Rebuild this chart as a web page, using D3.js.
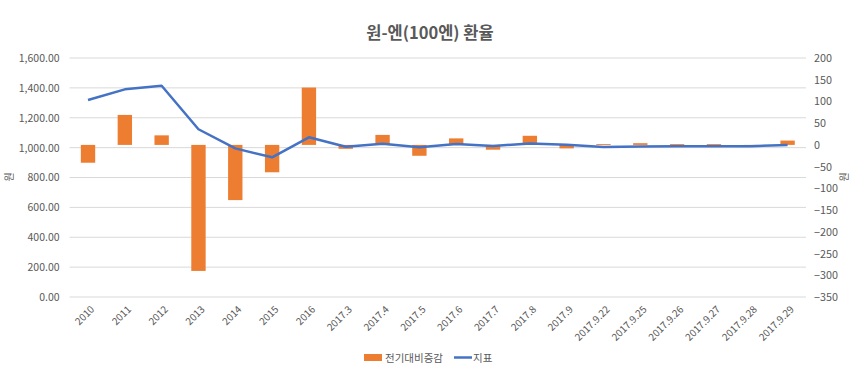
<!DOCTYPE html>
<html><head><meta charset="utf-8">
<script src="https://cdn.jsdelivr.net/npm/d3@7"></script>
<style>body{margin:0;background:#fff;} text{font-family:"Noto Sans CJK KR","Noto Sans",sans-serif;}</style>
</head><body>
<svg id="c" width="860" height="390"></svg>
<script>
const categories = ["2010","2011","2012","2013","2014","2015","2016","2017.3","2017.4","2017.5","2017.6","2017.7","2017.8","2017.9","2017.9.22","2017.9.25","2017.9.26","2017.9.27","2017.9.28","2017.9.29"];
const changeValues = [-41, 69, 22, -290, -127, -63, 132, -9, 23, -25, 15, -11, 21, -8, 2, 4, 2, 2, -0.5, 10];
const rateValues = [1319, 1390, 1414, 1123, 995, 935, 1069, 1006, 1026, 1002, 1024, 1011, 1028, 1020, 1005, 1008, 1009, 1009, 1009, 1018];
const leftTicks = [0,200,400,600,800,1000,1200,1400,1600];
const rightTicks = [200,150,100,50,0,-50,-100,-150,-200,-250,-300,-350];
const title = "원-엔(100엔) 환율";
const seriesNames = ["전기대비증감","지표"];

const svg = d3.select("#c");
const L = 69.6, R = 806, T = 58, B = 297;
const x = d3.scaleBand().domain(categories).range([L, R]).paddingInner(0.61).paddingOuter(0.305);
const yL = d3.scaleLinear().domain([0,1600]).range([B, T]);
const yR = d3.scaleLinear().domain([-350,200]).range([B, T]);
const grey = "#595959";

svg.append("text").attr("x", 430).attr("y", 39).attr("text-anchor","middle")
  .attr("font-size", 16.5).attr("font-weight","bold").attr("fill", grey).text(title);

// gridlines
svg.append("g").selectAll("line").data(leftTicks).join("line")
  .attr("x1", L).attr("x2", R).attr("y1", d=>yL(d)).attr("y2", d=>yL(d))
  .attr("stroke","#d9d9d9").attr("stroke-width",1);

// left axis
const la = svg.append("g").attr("transform",`translate(${L},0)`)
  .call(d3.axisLeft(yL).tickValues(leftTicks).tickSize(0).tickPadding(10).tickFormat(d3.format(",.2f")));
la.select(".domain").remove();
la.selectAll("text").attr("font-size",10.5).attr("fill",grey).attr("font-family","'Noto Sans CJK KR',sans-serif");

// right axis
const ra = svg.append("g").attr("transform",`translate(${R},0)`)
  .call(d3.axisRight(yR).tickValues(rightTicks).tickSize(0).tickPadding(8));
ra.select(".domain").remove();
ra.selectAll("text").attr("font-size",10.8).attr("fill",grey).attr("font-family","'Noto Sans CJK KR',sans-serif");

// axis titles
svg.append("text").attr("transform","translate(13,177) rotate(-90)").attr("text-anchor","middle")
  .attr("font-size",10).attr("fill",grey).text("원");
svg.append("text").attr("transform","translate(848,177) rotate(-90)").attr("text-anchor","middle")
  .attr("font-size",10).attr("fill",grey).text("원");

// bars
svg.append("g").selectAll("rect").data(changeValues).join("rect")
  .attr("x",(d,i)=>x(categories[i])).attr("width",x.bandwidth())
  .attr("y",d=>yR(Math.max(0,d))).attr("height",d=>Math.abs(yR(d)-yR(0)))
  .attr("fill","#ED7D31");

// line
const line = d3.line().x((d,i)=>x(categories[i])+x.bandwidth()/2).y(d=>yL(d));
svg.append("path").datum(rateValues).attr("d",line).attr("fill","none")
  .attr("stroke","#4472C4").attr("stroke-width",2.5).attr("stroke-linejoin","round");

// x labels
svg.append("g").selectAll("text").data(categories).join("text")
  .attr("transform",d=>`translate(${x(d)+x.bandwidth()/2+7},${B+13}) rotate(-45)`)
  .attr("text-anchor","end").attr("font-size",10).attr("fill",grey).text(d=>d);

// legend
const lg = svg.append("g");
lg.append("rect").attr("x",364).attr("y",354).attr("width",18).attr("height",7).attr("fill","#ED7D31");
lg.append("text").attr("x",385).attr("y",362).attr("font-size",10.5).attr("fill",grey).text(seriesNames[0]);
lg.append("line").attr("x1",454).attr("x2",472).attr("y1",357.5).attr("y2",357.5).attr("stroke","#4472C4").attr("stroke-width",2.5);
lg.append("text").attr("x",473).attr("y",362).attr("font-size",10.5).attr("fill",grey).text(seriesNames[1]);
</script>
</body></html>
